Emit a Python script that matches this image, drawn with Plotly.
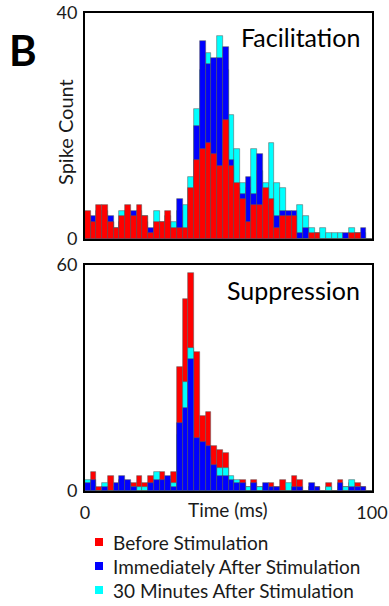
import plotly.graph_objects as go

# ---------------- data ----------------
bin_start_ms = list(range(0, 100, 2))   # 50 bins of 2 ms
bin_width_ms = 2

series_names = ["Before Stimulation", "Immediately After Stimulation", "30 Minutes After Stimulation"]
series_colors = ["#FF0000", "#0000FF", "#00FFFF"]

# Facilitation panel (spike counts per bin)
fac_before = [5, 3, 6, 6, 3, 2, 4, 6, 4, 6, 4, 1, 3, 3, 5, 2, 2, 2, 9, 14,
              16, 17, 15, 13, 21, 13, 10, 7, 3, 6, 6, 9, 7, 2, 4, 4, 4, 0, 0, 1,
              1, 0, 0, 0, 0, 0, 1, 1, 0, 0]
fac_immediate = [3, 4, 2, 4, 4, 1, 3, 4, 5, 4, 3, 2, 2, 2, 3, 1, 7, 1, 6, 20,
                 35, 31, 32, 32, 34, 14, 9, 8, 11, 8, 15, 6, 5, 4, 5, 5, 5, 1, 2, 0,
                 0, 0, 0, 0, 0, 1, 0, 0, 2, 0]
fac_30min = [4, 3, 5, 5, 3, 2, 5, 5, 4, 5, 4, 1, 5, 3, 4, 3, 5, 6, 11, 23,
             30, 33, 28, 36, 30, 22, 16, 10, 9, 16, 12, 10, 17, 10, 9, 4, 4, 6, 4, 2,
             1, 2, 1, 1, 1, 0, 2, 1, 1, 0]

# Suppression panel
sup_before = [2, 5, 1, 1, 4, 1, 3, 2, 2, 4, 2, 4, 3, 5, 3, 5, 33, 51, 58, 37,
              20, 21, 12, 11, 10, 3, 2, 3, 1, 3, 1, 1, 2, 1, 3, 1, 4, 3, 0, 1,
              1, 0, 2, 0, 3, 1, 2, 2, 1, 0]
sup_immediate = [2, 3, 0, 1, 0, 2, 4, 3, 1, 0, 0, 2, 3, 3, 4, 1, 18, 22, 35, 14,
                 13, 12, 7, 4, 4, 3, 2, 2, 0, 2, 0, 2, 1, 1, 0, 0, 1, 1, 0, 2,
                 1, 0, 0, 0, 2, 0, 1, 1, 1, 0]
sup_30min = [3, 2, 0, 2, 0, 1, 2, 2, 1, 1, 1, 1, 5, 2, 3, 2, 15, 29, 38, 10,
             8, 9, 5, 6, 6, 4, 3, 1, 1, 1, 1, 1, 0, 0, 0, 2, 0, 0, 0, 1,
             0, 0, 1, 0, 1, 1, 3, 1, 0, 0]

fac_ticks = [0, 40]
sup_ticks = [0, 60]
time_ticks = [0, 100]

# ---------------- figure ----------------
W, H = 389, 606
FONT = "Lato"
TXT = "#1a1a1a"
OUTLINE = dict(color="rgba(90,90,90,0.75)", width=0.7)


def px(x):
    return x / W


def py(y):
    return 1 - y / H


fig = go.Figure()

fac_data = [fac_before, fac_immediate, fac_30min]
sup_data = [sup_before, sup_immediate, sup_30min]

# top panel: 30 min at back, immediate middle, before in front
for i in [2, 1, 0]:
    fig.add_trace(go.Bar(x=bin_start_ms, y=fac_data[i], width=bin_width_ms, offset=0,
                         marker=dict(color=series_colors[i], line=OUTLINE),
                         name=series_names[i], showlegend=False,
                         xaxis="x", yaxis="y"))
# bottom panel: before at back, 30 min middle, immediate in front
for i in [0, 2, 1]:
    fig.add_trace(go.Bar(x=bin_start_ms, y=sup_data[i], width=bin_width_ms, offset=0,
                         marker=dict(color=series_colors[i], line=OUTLINE),
                         name=series_names[i], showlegend=False,
                         xaxis="x2", yaxis="y2"))

axis_common = dict(showline=True, mirror=True, linecolor="black", linewidth=2,
                   showgrid=False, zeroline=False, ticks="", automargin=False,
                   tickfont=dict(family=FONT, size=18, color=TXT))

xdom = [px(85), px(372)]
fig.update_layout(
    width=W, height=H,
    margin=dict(l=0, r=0, t=0, b=0, autoexpand=False),
    paper_bgcolor="white", plot_bgcolor="white",
    barmode="overlay", bargap=0,
    font=dict(family=FONT, color=TXT),
    xaxis=dict(axis_common, domain=xdom, range=[0, 100], anchor="y",
               showticklabels=False),
    yaxis=dict(axis_common, domain=[py(239), py(13)], range=[0, 40], anchor="x",
               tickvals=fac_ticks, ticklabelstandoff=2),
    xaxis2=dict(axis_common, domain=xdom, range=[0, 100], anchor="y2",
                tickvals=time_ticks, ticklabelstandoff=4),
    yaxis2=dict(axis_common, domain=[py(491), py(265)], range=[0, 60], anchor="x2",
                tickvals=sup_ticks, ticklabelstandoff=2),
)


def label(text, x, y, size, angle=0, xanchor="center", bold=False, color=TXT):
    return dict(text=f"<b>{text}</b>" if bold else text, x=px(x), y=py(y),
                xref="paper", yref="paper", xanchor=xanchor, yanchor="middle",
                textangle=angle, showarrow=False,
                font=dict(family=FONT, size=size, color=color))


ann = [
    label("B", 23, 50, 42, bold=True, color="black"),
    label("Spike Count", 65, 132, 20, angle=-90),
    label("Facilitation", 300, 37, 25, color="black"),
    label("Suppression", 293, 290, 25, color="black"),
    label("Time (ms)", 228, 509, 19),
]

shapes = []
legend_rows = [542, 566, 590]
for name, color, ry in zip(series_names, series_colors, legend_rows):
    shapes.append(dict(type="rect", xref="paper", yref="paper",
                       x0=px(95), x1=px(103), y0=py(ry + 4), y1=py(ry - 4),
                       fillcolor=color, line=dict(width=0)))
    ann.append(label(name, 111, ry, 19, xanchor="left"))

fig.update_layout(annotations=ann, shapes=shapes)

fig.write_html("out.html")
